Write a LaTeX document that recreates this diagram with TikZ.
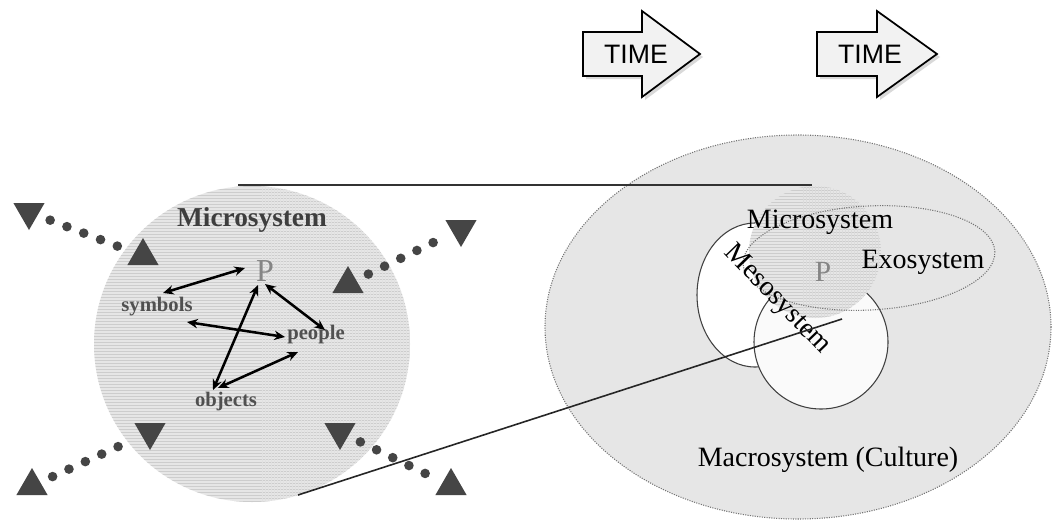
\documentclass[tikz,border=0pt]{standalone}
\usepackage{fontspec}
\setmainfont{Liberation Serif}
\newfontfamily\arialfont{Liberation Sans}
\usetikzlibrary{shapes.geometric,arrows.meta,calc}
\definecolor{dk}{HTML}{454545}
\definecolor{macro}{HTML}{E6E6E6}
\definecolor{hatchbg}{HTML}{E6E6E6}
\definecolor{hatchln}{HTML}{CDCDCD}
\definecolor{lbl}{HTML}{505050}
\definecolor{pgray}{HTML}{858585}
\begin{document}
\begin{tikzpicture}[x=0.75pt,y=-0.75pt,
  bigtxt/.style={font=\fontsize{21}{25}\selectfont, inner sep=0pt},
  boldtxt/.style={font=\fontsize{20.5}{24}\selectfont\bfseries, text=dk!90!black, inner sep=0pt},
  smalllbl/.style={font=\fontsize{15.5}{18}\selectfont\bfseries, text=lbl, inner sep=0pt},
  pnode/.style={font=\fontsize{24}{28}\selectfont, text=pgray, inner sep=0pt},
  upTri/.style={regular polygon, regular polygon sides=3, minimum size=27pt, inner sep=0pt, fill=dk},
  downTri/.style={upTri, shape border rotate=180},
  dotline/.style={draw=dk, line width=7.2pt, line cap=round, dash pattern=on 0pt off 13.5pt, shorten <=17pt, shorten >=17pt},
  dbl/.style={{Stealth[length=8pt,width=7pt]}-{Stealth[length=8pt,width=7pt]}, line width=1.9pt, black},
  timebox/.style={draw=black, line width=1.3pt, fill=black!5, line join=miter},
  timetxt/.style={font=\arialfont\fontsize{20}{24}\selectfont, inner sep=0pt},
  thinring/.style={draw=black!75, line width=0.8pt}
]
\useasboundingbox (0,0) rectangle (1053,522);
\fill[white] (0,0) rectangle (1053,522);

% ---------- TIME arrows ----------
\fill[black!15] (586,36) -- (645,36) -- (645,15) -- (703,57) -- (645,100) -- (645,79) -- (586,79) -- cycle;
\draw[timebox] (583,32) -- (642,32) -- (642,11) -- (700,54) -- (642,97) -- (642,76) -- (583,76) -- cycle;
\node[timetxt] (time1) at (636,54) {TIME};
\fill[black!15] (820,36) -- (880,36) -- (880,15) -- (940,57) -- (880,100) -- (880,79) -- (820,79) -- cycle;
\draw[timebox] (817,32) -- (877,32) -- (877,11) -- (937,54) -- (877,97) -- (877,76) -- (817,76) -- cycle;
\node[timetxt] (time2) at (870,54) {TIME};

% ---------- Right: macrosystem ----------
\path[fill=macro, draw=black!55, densely dotted, line width=0.8pt] (798,327) ellipse [x radius=253, y radius=192];
% mesosystem settings
\path[fill=white, thinring] (755,295) ellipse [x radius=58, y radius=72];
\path[fill=black!2, thinring] (821,342) circle [radius=67];
% small hatched microsystem
\begin{scope}
  \clip (815,252) circle [radius=66];
  \fill[hatchbg] (745,180) rectangle (885,325);
  \foreach \yy in {187,190,...,320} \draw[hatchln, line width=0.5pt] (745,\yy) -- (885,\yy);
  \foreach \xx in {803,806,...,882} \draw[hatchln!70, line width=0.4pt] (\xx,180) -- (\xx,325);
\end{scope}
% exosystem
\draw[black!55, densely dotted, line width=0.8pt, rotate around={3:(869,258)}] (869,258) ellipse [x radius=126, y radius=52];

\node[bigtxt] (rmicro) at (820,222) {Microsystem};
\node[bigtxt] (exo) at (923,262) {Exosystem};
\node[pnode, font=\fontsize{22}{26}\selectfont] (P2) at (823,272) {P};
\node[bigtxt, rotate=-46] (meso) at (777,300) {Mesosystem};
\node[bigtxt] (macro) at (828,460) {Macrosystem (Culture)};

% ---------- Left: microsystem ----------
\begin{scope}
  \clip (252,344) circle [radius=158];
  \fill[hatchbg] (90,180) rectangle (415,505);
  \foreach \yy in {186,189,...,504} \draw[hatchln, line width=0.5pt] (90,\yy) -- (415,\yy);
  \foreach \xx in {262,265,...,412} \draw[hatchln!60, line width=0.4pt] (\xx,180) -- (\xx,505);
\end{scope}

\node[boldtxt] (lmicro) at (252,220) {Microsystem};
\node[pnode] (P1) at (265,271) {P};
\node[smalllbl] (sym) at (157,307) {symbols};
\node[smalllbl] (peo) at (316,335) {people};
\node[smalllbl] (obj) at (226,402) {objects};

\draw[dbl] ($(sym)+(6,-14)$) -- ($(P1)+(-20,-3)$);
\draw[dbl] ($(P1)+(0,13)$) -- ($(peo)+(9,-5)$);
\draw[dbl] ($(sym)+(30,15)$) -- ($(peo)+(-31,2)$);
\draw[dbl] ($(P1)+(-7,14)$) -- ($(obj)+(-13,-12)$);
\draw[dbl] ($(obj)+(-8,-14)$) -- ($(peo)+(-18,17)$);

% ---------- dotted in/out arrows ----------
\node[downTri] (tlA) at (29,212) {};
\node[upTri]   (tlB) at (143,256) {};
\node[upTri]   (trA) at (348,284) {};
\node[downTri] (trB) at (461,229) {};
\node[upTri]   (blA) at (32,486) {};
\node[downTri] (blB) at (150,432) {};
\node[downTri] (brA) at (340,432) {};
\node[upTri]   (brB) at (451,486) {};
\draw[dotline] (tlA.center) -- (tlB.center);
\draw[dotline] (trA.center) -- (trB.center);
\draw[dotline] (blA.center) -- (blB.center);
\draw[dotline] (brA.center) -- (brB.center);

% ---------- projection lines ----------
\coordinate (topL) at (238,185);
\coordinate (topR) at (812,185);
\coordinate (botL) at (298,495);
\coordinate (botR) at (842,319);
\draw[black!80, line width=1.6pt] (topL) -- (topR);
\draw[black!85, line width=1.2pt] (botL) -- (botR);
\end{tikzpicture}
\end{document}
